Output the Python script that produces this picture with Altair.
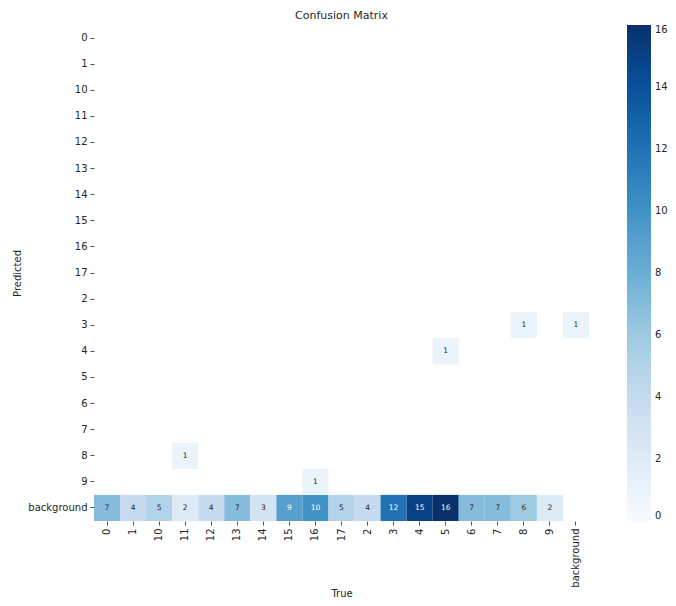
import altair as alt
import pandas as pd

categories = ["0", "1", "10", "11", "12", "13", "14", "15", "16", "17",
              "2", "3", "4", "5", "6", "7", "8", "9", "background"]

# background row (predicted = background), true classes 0..9 in category order
background_true = ["0", "1", "10", "11", "12", "13", "14", "15", "16", "17",
                   "2", "3", "4", "5", "6", "7", "8", "9"]
background_counts = [7, 4, 5, 2, 4, 7, 3, 9, 10, 5, 4, 12, 15, 16, 7, 7, 6, 2]

# other non-zero cells
other_pred = ["3", "3", "4", "8", "9"]
other_true = ["8", "background", "5", "11", "16"]
other_counts = [1, 1, 1, 1, 1]

blues = ["#f7fbff", "#deebf7", "#c6dbef", "#9ecae1", "#6baed6",
         "#4292c6", "#2171b5", "#08519c", "#08306b"]
color_stops = [0, 2, 4, 6, 8, 10, 12, 14, 16]

rows = []
for t, v in zip(background_true, background_counts):
    rows.append({"True": t, "Predicted": "background", "count": v})
for p, t, v in zip(other_pred, other_true, other_counts):
    rows.append({"True": t, "Predicted": p, "count": v})
df = pd.DataFrame(rows)

font = "DejaVu Sans"
dark = "#262626"

x_enc = alt.X("True:N", sort=categories,
              scale=alt.Scale(domain=categories, paddingInner=0, paddingOuter=0),
              axis=alt.Axis(title="True", labelAngle=270, titleY=72,
                            titleBaseline="middle"))
y_enc = alt.Y("Predicted:N", sort=categories,
              scale=alt.Scale(domain=categories, paddingInner=0, paddingOuter=0),
              axis=alt.Axis(title="Predicted", titleX=-77, titleY=248,
                            titleAngle=270, titleBaseline="middle",
                            titleAlign="center"))

rects = alt.Chart(df).mark_rect().encode(
    x=x_enc,
    y=y_enc,
    color=alt.Color("count:Q",
                    scale=alt.Scale(domain=color_stops, range=blues,
                                    interpolate="rgb"),
                    legend=alt.Legend(title=None, values=color_stops,
                                      gradientLength=496, gradientThickness=24,
                                      offset=38, padding=0, labelOffset=4,
                                      labelFontSize=10, labelColor=dark,
                                      labelFont=font, gradientStrokeWidth=0,
                                      direction="vertical", orient="right")),
)

texts = alt.Chart(df).mark_text(fontSize=7.5, font=font).encode(
    x=alt.X("True:N", sort=categories),
    y=alt.Y("Predicted:N", sort=categories),
    text="count:Q",
    color=alt.condition(alt.datum.count >= 8, alt.value("white"), alt.value(dark)),
)

chart = (rects + texts).properties(
    width=495, height=496,
    title=alt.TitleParams("Confusion Matrix", fontSize=11, font=font,
                          fontWeight="normal", color=dark, offset=4,
                          anchor="middle"),
    autosize=alt.AutoSizeParams(type="none"),
    padding={"left": 86, "top": 17, "right": 79, "bottom": 77},
).configure_axis(
    labelFontSize=10, labelFont=font, labelColor=dark,
    titleFontSize=10, titleFont=font, titleColor=dark, titleFontWeight="normal",
    tickSize=4, tickColor=dark, tickWidth=0.8, labelPadding=3,
    domain=False, grid=False,
).configure_view(stroke=None)

chart.save("out.html", embed_options={"renderer": "svg", "actions": False})
